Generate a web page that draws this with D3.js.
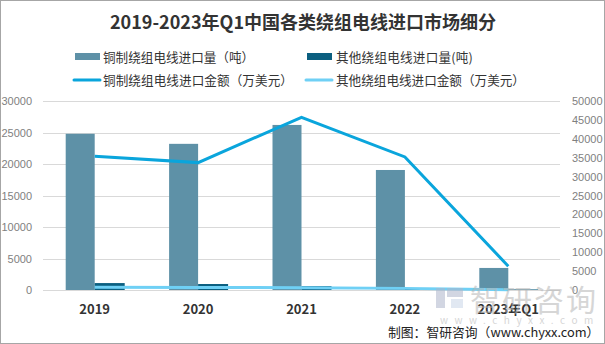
<!DOCTYPE html>
<html>
<head>
<meta charset="utf-8">
<script src="https://cdn.jsdelivr.net/npm/d3@7"></script>
<style>
  html, body { margin: 0; padding: 0; background: #fff; }
  svg { display: block; font-family: "Microsoft YaHei", "Noto Sans CJK SC", "DejaVu Sans", sans-serif; }
</style>
</head>
<body>
<svg id="chart" width="605" height="344"></svg>
<script>
// Categories and series
const categories = ["2019", "2020", "2021", "2022", "2023年Q1"];
const copperVolume = [24800, 23200, 26200, 19050, 3500];   // 吨
const otherVolume = [1100, 950, 620, 260, 90];              // 吨
const copperValue = [35400, 33700, 45700, 35200, 6300];     // 万美元
const otherValue = [700, 680, 620, 430, 80];                // 万美元
const leftTicks = [0, 5000, 10000, 15000, 20000, 25000, 30000];
const rightTicks = [0, 5000, 10000, 15000, 20000, 25000, 30000, 35000, 40000, 45000, 50000];

const title = "2019-2023年Q1中国各类绕组电线进口市场细分";
const legendItems = [
  { name: "铜制绕组电线进口量（吨）", type: "bar", color: "#5e91a7" },
  { name: "其他绕组电线进口量(吨)", type: "bar", color: "#0b5f80" },
  { name: "铜制绕组电线进口金额（万美元）", type: "line", color: "#0aa5dc" },
  { name: "其他绕组电线进口金额（万美元）", type: "line", color: "#6fd0f5" }
];

const svg = d3.select("#chart");
const W = 605, H = 344;
const plot = { left: 43, right: 560, top: 101, bottom: 290 };

// Stretch a label's letter spacing so it spans the given width
function fitWidth(sel, width) {
  const node = sel.node();
  const n = sel.text().length;
  const w = node.getComputedTextLength();
  if (n > 1 && w < width) sel.attr("letter-spacing", (width - w) / n);
  return sel;
}

// Outer frame
svg.append("rect").attr("x", 0.5).attr("y", 0.5).attr("width", W - 1).attr("height", H - 1)
  .attr("fill", "#fff").attr("stroke", "#a6a6a6").attr("stroke-width", 1);

// Title
svg.append("text").attr("x", 303).attr("y", 29).attr("text-anchor", "middle")
  .attr("font-size", 18).attr("font-weight", "bold").attr("fill", "#333")
  .text(title);

// Scales
const x = d3.scaleBand().domain(categories).range([plot.left, plot.right]).paddingInner(0).paddingOuter(0);
const yL = d3.scaleLinear().domain([0, 30000]).range([plot.bottom, plot.top]);
const yR = d3.scaleLinear().domain([0, 50000]).range([plot.bottom, plot.top]);
const barW = 29;

// Gridlines
svg.append("g").selectAll("line").data(leftTicks).join("line")
  .attr("x1", plot.left).attr("x2", plot.right)
  .attr("y1", d => Math.round(yL(d)) + 0.5).attr("y2", d => Math.round(yL(d)) + 0.5)
  .attr("stroke", "#d9d9d9").attr("stroke-width", 1);

// Left axis
const axL = svg.append("g").attr("transform", `translate(${plot.left - 11},0)`)
  .call(d3.axisLeft(yL).tickValues(leftTicks).tickSize(0).tickPadding(0).tickFormat(d3.format("d")));
axL.select(".domain").remove();
axL.selectAll("text").attr("fill", "#7f7f7f").attr("font-size", 11)
  .attr("font-family", "Liberation Sans, Arial, sans-serif");

// Right axis
const axR = svg.append("g").attr("transform", `translate(${plot.right + 12},0)`)
  .call(d3.axisRight(yR).tickValues(rightTicks).tickSize(0).tickPadding(0).tickFormat(d3.format("d")));
axR.select(".domain").remove();
axR.selectAll("text").attr("fill", "#7f7f7f").attr("font-size", 11)
  .attr("font-family", "Liberation Sans, Arial, sans-serif");

// Bars
const center = c => x(c) + x.bandwidth() / 2;
svg.append("g").selectAll("rect").data(categories).join("rect")
  .attr("x", c => center(c) - barW).attr("width", barW)
  .attr("y", (c, i) => yL(copperVolume[i])).attr("height", (c, i) => yL(0) - yL(copperVolume[i]))
  .attr("fill", legendItems[0].color);
svg.append("g").selectAll("rect").data(categories).join("rect")
  .attr("x", c => center(c)).attr("width", barW + 1)
  .attr("y", (c, i) => yL(otherVolume[i])).attr("height", (c, i) => yL(0) - yL(otherVolume[i]))
  .attr("fill", legendItems[1].color);

// Lines
const lineGen = d3.line().x((d, i) => center(categories[i])).y(d => yR(d));
svg.append("path").datum(otherValue).attr("d", lineGen)
  .attr("fill", "none").attr("stroke", legendItems[3].color).attr("stroke-width", 3);
svg.append("path").datum(copperValue).attr("d", lineGen)
  .attr("fill", "none").attr("stroke", legendItems[2].color).attr("stroke-width", 3);

// Category labels
svg.append("g").selectAll("text").data(categories).join("text")
  .attr("x", c => center(c)).attr("y", 314).attr("text-anchor", "middle")
  .attr("font-size", 13).attr("font-weight", "bold").attr("fill", "#333")
  .text(c => c);

// Legend
const legendPos = [
  { x: 75, y: 57 }, { x: 307, y: 57 }, { x: 74, y: 80 }, { x: 306, y: 80 }
];
const legendSpan = [150, 137, 190, 187];
const lg = svg.append("g");
legendItems.forEach((it, i) => {
  const p = legendPos[i];
  if (it.type === "bar") {
    lg.append("rect").attr("x", p.x).attr("y", p.y - 4).attr("width", 25).attr("height", 7).attr("fill", it.color);
  } else {
    lg.append("line").attr("x1", p.x).attr("x2", p.x + 26).attr("y1", p.y).attr("y2", p.y)
      .attr("stroke", it.color).attr("stroke-width", 3).attr("stroke-linecap", "round");
  }
  const t = lg.append("text").attr("x", 103 + (i % 2) * 233).attr("y", p.y + 5)
    .attr("font-size", 12.6).attr("fill", "#333").text(it.name);
  fitWidth(t, legendSpan[i]);
});

// Watermark
const wm = svg.append("g").attr("opacity", 0.55);
wm.append("rect").attr("x", 436).attr("y", 288).attr("width", 9).attr("height", 20).attr("fill", "#aeb6cc");
wm.append("rect").attr("x", 447).attr("y", 288).attr("width", 16).attr("height", 9).attr("fill", "#aeb6cc");
wm.append("rect").attr("x", 451).attr("y", 299).attr("width", 12).attr("height", 9).attr("fill", "#c9d6e8");
wm.append("text").attr("x", 470).attr("y", 311).attr("font-size", 30).attr("fill", "#b5b5b5")
  .attr("letter-spacing", 2).text("智研咨询");
wm.append("text").attr("x", 440).attr("y", 324).attr("font-size", 10).attr("fill", "#b5b5b5")
  .attr("letter-spacing", 6.5).text("www.chyxx.com");

// Source
svg.append("text").attr("x", 388).attr("y", 337).attr("font-size", 12.8).attr("fill", "#222")
  .text("制图：智研咨询（www.chyxx.com）");
</script>
</body>
</html>
